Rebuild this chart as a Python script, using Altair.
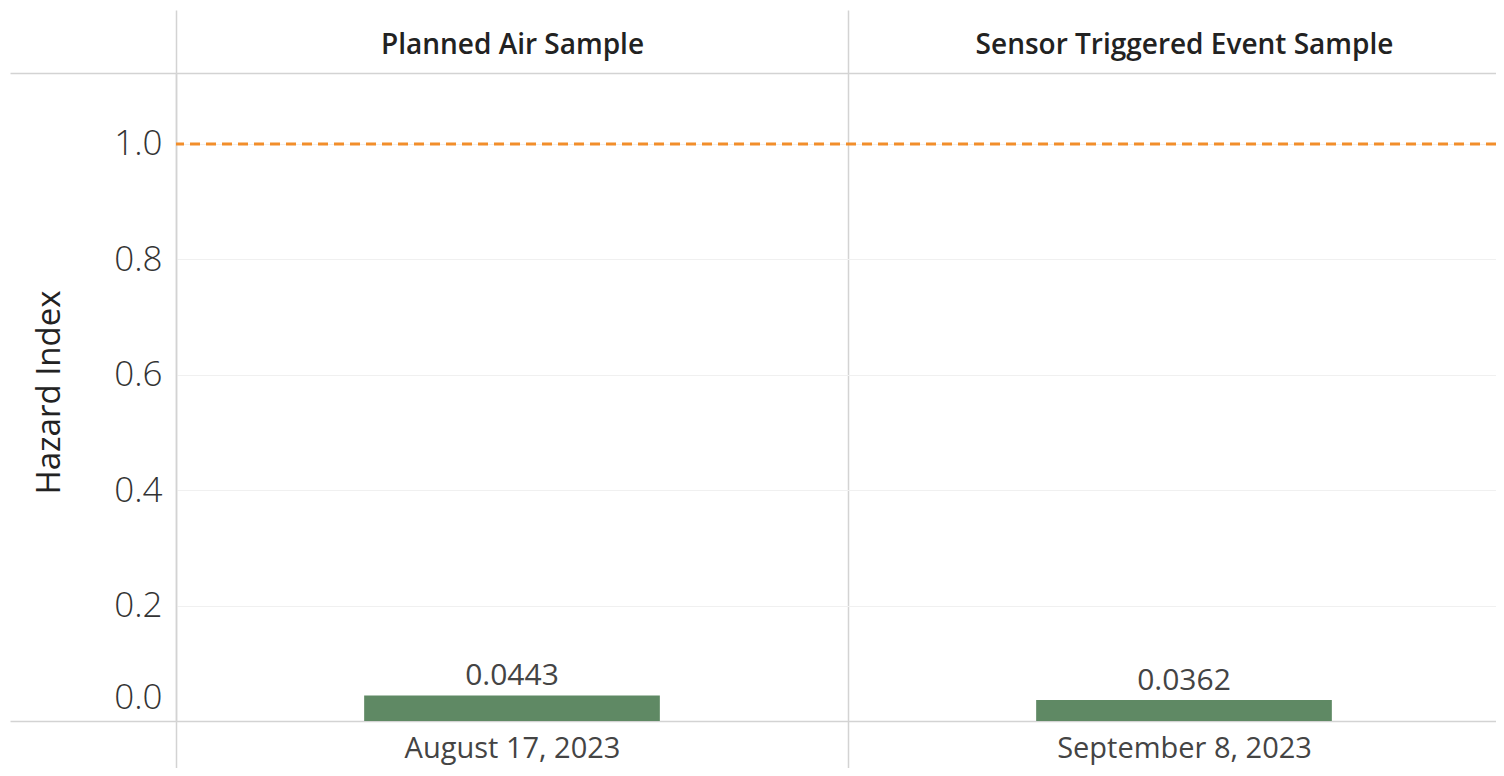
import altair as alt
import pandas as pd

# ---- data ----
panels = ["Planned Air Sample", "Sensor Triggered Event Sample"]
dates = ["August 17, 2023", "September 8, 2023"]
hazard = [0.0443, 0.0362]
threshold = [1.0]
y_ticks = [0.0, 0.2, 0.4, 0.6, 0.8, 1.0]
y_max = 1.123

df = pd.DataFrame({"panel": panels, "date": dates, "hazard": hazard})
thr = pd.DataFrame({"threshold": threshold})

GRAY = "#d3d3d3"
FONT = "Open Sans"
PANEL_SPAN = 1344  # two equal panels; the right one runs past the visible edge
yscale = alt.Scale(domain=[0, y_max], nice=False, zero=True)


def band():
    return alt.Scale(paddingInner=0, paddingOuter=0, range=[0, PANEL_SPAN])


bars = alt.Chart(df).mark_bar(color="#5f8964", width=alt.RelativeBandSize(0.44)).encode(
    x=alt.X(
        "panel:N", sort=panels, scale=band(),
        axis=alt.Axis(
            orient="top", title=None, labelFontSize=28, labelFontWeight=600,
            labelColor="#222222", labelAngle=0, labelBaseline="middle",
            labelPadding=-35, labelLimit=0, ticks=True, tickSize=63,
            tickColor=GRAY, tickWidth=1.5, tickBand="extent", grid=True,
            gridColor=GRAY, gridWidth=1.5, domain=True, domainColor=GRAY,
            domainWidth=1.5,
        ),
    ),
    y=alt.Y(
        "hazard:Q", scale=yscale,
        axis=alt.Axis(
            orient="left", values=y_ticks, format=".1f", title="Hazard Index",
            labelFontSize=35, labelFontWeight=300, labelColor="#333333",
            labelPadding=14,
            labelOffset={"condition": {"test": "datum.value === 0", "value": -24}, "value": 0},
            ticks=False, domain=True, domainColor=GRAY,
            domainWidth=1.5, grid=True, gridColor="#f0f0f0", gridWidth=1,
            titleFontSize=33, titleFontWeight=400, titleColor="#222222",
            titleX=-127, titleY=319, titleAngle=270, titleBaseline="middle",
            titleAlign="center",
        ),
    ),
)

labels = alt.Chart(df).mark_text(
    fontSize=30, color="#444444", baseline="alphabetic", dy=-10, font=FONT
).encode(
    x=alt.X(
        "date:N", sort=dates, scale=band(),
        axis=alt.Axis(
            orient="bottom", title=None, labelFontSize=29, labelColor="#444444",
            labelAngle=0, labelBaseline="middle", labelPadding=-27,
            labelLimit=0, ticks=True, tickSize=54, tickColor=GRAY,
            tickWidth=1.5, tickBand="extent", grid=False, domain=True,
            domainColor=GRAY, domainWidth=1.5,
        ),
    ),
    y=alt.Y("hazard:Q", scale=yscale, axis=None),
    text=alt.Text("hazard:Q", format=".4f"),
)

rule = alt.Chart(thr).mark_rule(
    color="#f28e2b", strokeDash=[10, 6], strokeWidth=3
).encode(
    y=alt.Y(
        "threshold:Q", scale=yscale,
        axis=alt.Axis(
            orient="left", values=[0, y_max], tickSize=166, tickColor=GRAY,
            tickWidth=1.5, labels=False, domain=False, grid=False, title=None,
        ),
    ),
)

chart = (
    alt.layer(bars, labels, rule)
    .resolve_scale(x="independent")
    .resolve_axis(x="independent", y="independent")
    .properties(
        width=1320, height=648,
        autosize=alt.AutoSizeParams(type="none"),
        padding={"left": 168, "top": 65, "right": 0, "bottom": 47},
        background="white",
    )
    .configure(font=FONT)
    .configure_view(stroke=None)
)

chart.save("out.html", embed_options={"renderer": "svg", "actions": False})
